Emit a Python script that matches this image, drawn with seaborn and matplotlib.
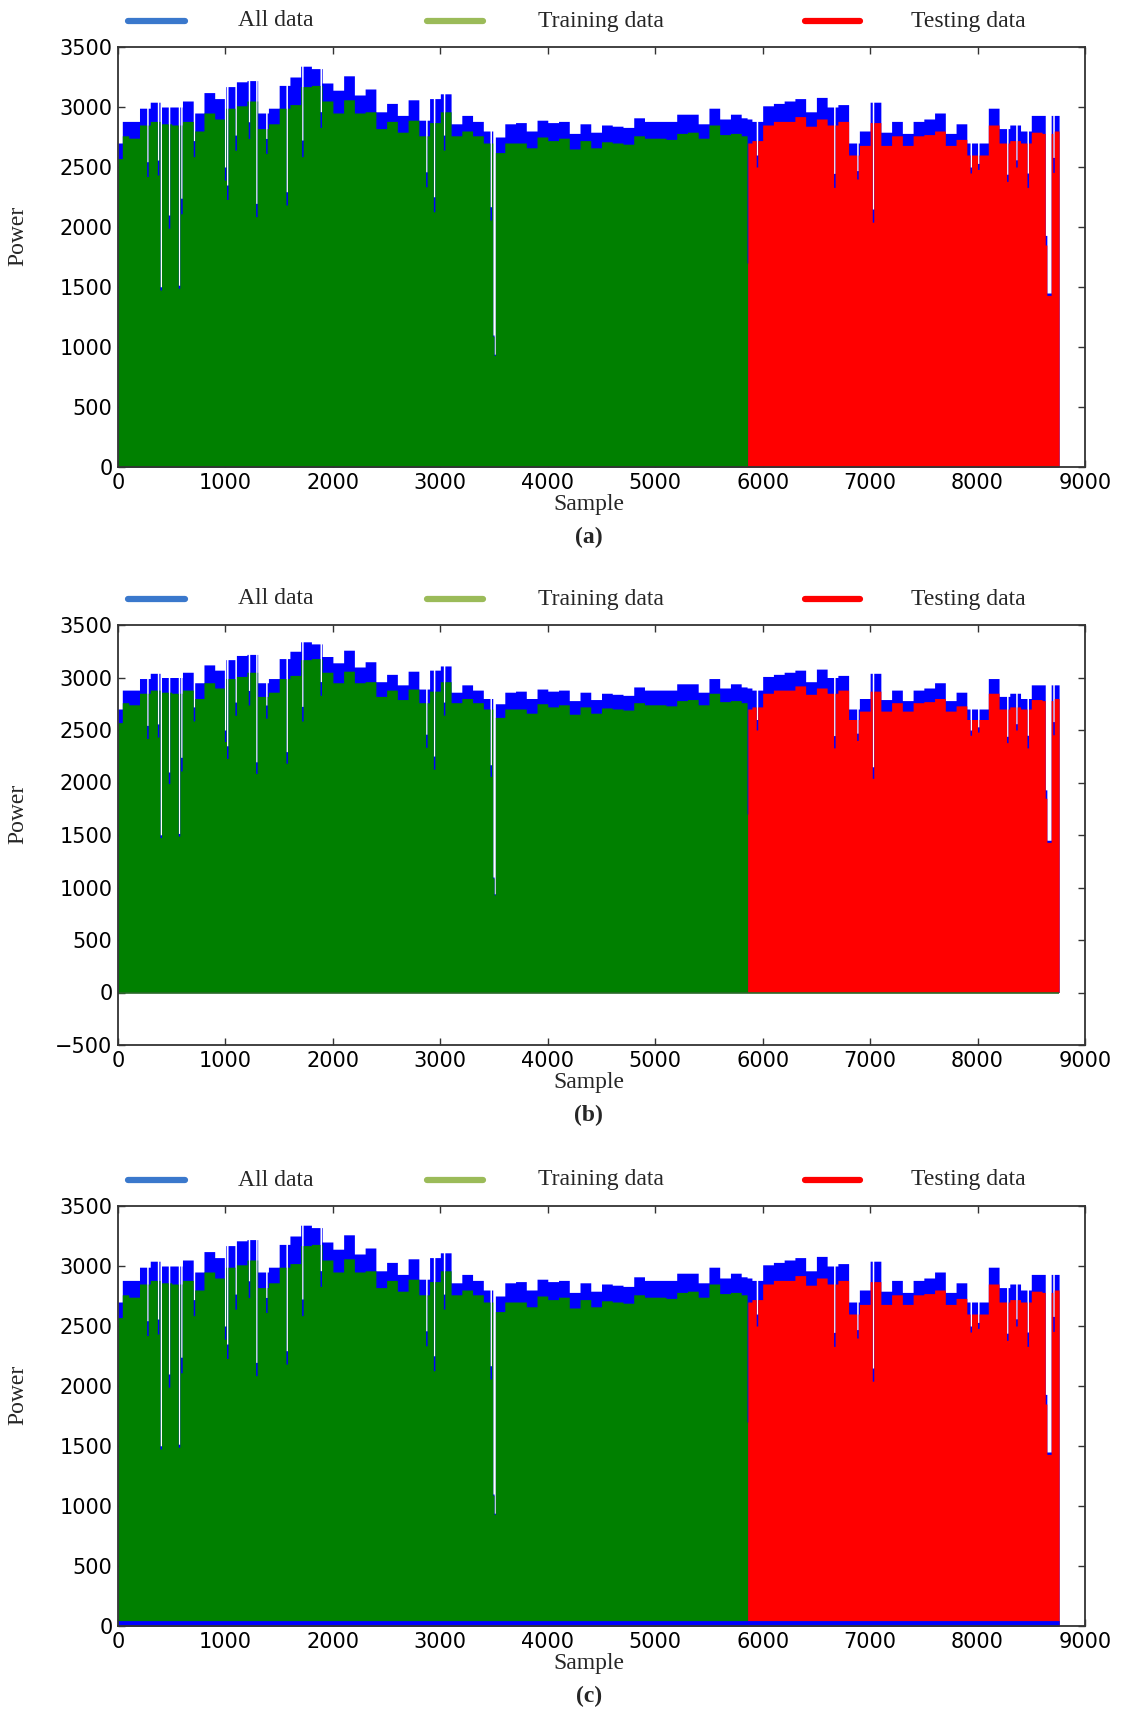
import numpy as np
import matplotlib
matplotlib.use('Agg')
import matplotlib.pyplot as plt
import seaborn as sns
from matplotlib.lines import Line2D

# step levels (value holds from this sample to the next one)
sample_start = [0, 40, 100, 200, 300, 400, 500, 600, 700, 800, 900,
                1000, 1100, 1200, 1300, 1400, 1500, 1600, 1700, 1800, 1900,
                2000, 2100, 2200, 2300, 2400, 2500, 2600, 2700, 2800, 2900,
                3000, 3100, 3200, 3300, 3400, 3500, 3600, 3700, 3800, 3900,
                4000, 4100, 4200, 4300, 4400, 4500, 4600, 4700, 4800, 4900,
                5000, 5100, 5200, 5300, 5400, 5500, 5600, 5700, 5800, 5860,
                5900, 6000, 6100, 6200, 6300, 6400, 6500, 6600, 6700, 6800,
                6900, 7000, 7100, 7200, 7300, 7400, 7500, 7600, 7700, 7800,
                7900, 8000, 8100, 8200, 8300, 8400, 8500, 8600, 8700]
all_power = [2700, 2880, 2880, 2990, 3040, 3000, 3000, 3050, 2950, 3120, 3070,
             3170, 3210, 3220, 2950, 2990, 3180, 3250, 3340, 3320, 3200,
             3140, 3260, 3100, 3150, 2960, 3030, 2930, 3060, 2890, 3070,
             3110, 2860, 2930, 2880, 2800, 2750, 2860, 2870, 2800, 2890,
             2870, 2880, 2780, 2860, 2790, 2850, 2840, 2830, 2910, 2880,
             2880, 2880, 2940, 2940, 2860, 2990, 2900, 2940, 2910, 2900,
             2880, 3010, 3030, 3050, 3070, 2960, 3080, 3000, 3020, 2700,
             2800, 3040, 2790, 2880, 2780, 2880, 2900, 2950, 2780, 2860,
             2700, 2700, 2990, 2820, 2850, 2800, 2930, 2930, 2930]
fit_power = [2570, 2760, 2740, 2850, 2880, 2860, 2850, 2880, 2800, 2950, 2900,
             2990, 3010, 3050, 2820, 2860, 2990, 3020, 3170, 3180, 3050,
             2950, 3060, 2950, 2960, 2820, 2880, 2790, 2890, 2760, 2870,
             2960, 2760, 2800, 2760, 2700, 2620, 2700, 2700, 2660, 2750,
             2720, 2740, 2650, 2720, 2660, 2710, 2700, 2690, 2760, 2740,
             2740, 2730, 2780, 2790, 2740, 2850, 2770, 2780, 2760, 2700,
             2720, 2850, 2880, 2880, 2920, 2840, 2900, 2850, 2880, 2600,
             2680, 2870, 2680, 2760, 2680, 2760, 2770, 2800, 2680, 2730,
             2600, 2600, 2850, 2700, 2720, 2700, 2790, 2780, 2800]

# short drops in the series
dip_start = [267, 366, 391, 468, 561, 583, 700, 990, 1010, 1088,
             1212, 1281, 1374, 1563, 1709, 1880, 2863, 2935, 3028, 3462,
             3488, 3500, 5855, 5940, 6660, 6875, 7020, 7930, 8000, 8270,
             8355, 8460, 8630, 8645, 8700]
dip_end = [281, 380, 405, 482, 575, 597, 714, 1004, 1024, 1102,
           1226, 1295, 1388, 1577, 1723, 1894, 2877, 2949, 3042, 3476,
           3500, 3512, 5862, 5954, 6674, 6889, 7034, 7944, 8014, 8284,
           8369, 8474, 8645, 8685, 8714]
dip_all = [2544, 2558, 1502, 2100, 1515, 2240, 2720, 2500, 2350, 2766,
           2877, 2197, 2738, 2294, 2725, 2961, 2460, 2252, 2766, 2169,
           1100, 940, 2900, 2600, 2447, 2470, 2150, 2500, 2530, 2440,
           2560, 2450, 1930, 1450, 2580]
dip_fit = [2420, 2433, 1475, 1990, 1490, 2110, 2586, 2390, 2230, 2640,
           2738, 2086, 2613, 2183, 2586, 2830, 2335, 2127, 2641, 2058,
           1090, 930, 1700, 2500, 2330, 2400, 2040, 2450, 2480, 2380,
           2500, 2330, 1850, 1430, 2455]

N_SAMPLES = 8760
SPLIT = 5860
panel_tags = ['(a)', '(b)', '(c)']
panel_ymin = [0, -500, 0]
legend_labels = ['All data', 'Training data', 'Testing data']
legend_colors = ['#3a78cc', '#9bbb59', '#ff0000']

idx = np.arange(N_SAMPLES + 1)
pos = np.searchsorted(sample_start, idx, side='right') - 1
all_series = np.asarray(all_power, float)[pos]
fit_series = np.asarray(fit_power, float)[pos]
for s, e, a, f in zip(dip_start, dip_end, dip_all, dip_fit):
    all_series[s:e] = a
    fit_series[s:e] = f
all_series[-1] = np.nan
fit_series[-1] = np.nan

sns.set_theme(style='ticks')
plt.rcParams['font.family'] = ['DejaVu Sans']
SERIF = 'Liberation Serif'

W, H = 1122, 1711
fig = plt.figure(figsize=(W / 100, H / 100), dpi=100)

ax_px = [(47, 467), (625, 1045), (1206, 1626)]
left, right = 118, 1085

for k, (top, bottom) in enumerate(ax_px):
    ax = fig.add_axes([left / W, 1 - bottom / H, (right - left) / W, (bottom - top) / H])
    ax.set_facecolor('white')
    ax.fill_between(idx, 0, all_series, step='post', color='#0000ff', lw=0)
    tr = idx <= SPLIT
    ax.fill_between(idx[tr], 0, fit_series[tr], step='post', color='#008000', lw=0)
    te = idx >= SPLIT
    ax.fill_between(idx[te], 0, fit_series[te], step='post', color='#ff0000', lw=0)
    if k == 1:
        ax.hlines(0, 0, N_SAMPLES, color='#2a6a2a', lw=1.2)
    if k == 2:
        ax.fill_between(idx, 0, 45, color='#0000ff', lw=0)

    ax.set_xlim(0, 9000)
    ax.set_ylim(panel_ymin[k], 3500)
    ax.set_xticks(np.arange(0, 9001, 1000))
    ax.set_yticks(np.arange(panel_ymin[k], 3501, 500))
    ax.yaxis.set_major_formatter(matplotlib.ticker.FuncFormatter(
        lambda v, p: f'{int(v)}'.replace('-', '\u2212')))
    ax.tick_params(direction='in', top=True, right=True, length=5, width=1,
                   labelsize=15, pad=4, colors='#333333', labelcolor='black')
    for sp in ax.spines.values():
        sp.set_color('#333333')
        sp.set_linewidth(1.3)

    ax.set_xlabel('Sample', family=SERIF, fontsize=17)
    ax.xaxis.set_label_coords(0.487, -27 / 420)
    ax.set_ylabel('Power', family=SERIF, fontsize=17)
    ax.yaxis.set_label_coords(-90 / 967, 0.55)
    ax.text(0.487, -70 / 420, panel_tags[k], transform=ax.transAxes,
            ha='center', va='center', family=SERIF, fontsize=17, fontweight='bold')

    # legend row above the axes
    ly = 1 + 26 / 420
    handle_x = [(128, 185), (427, 483), (805, 860)]
    text_x = [238, 538, 911]
    for (x0, x1), tx, lab, col in zip(handle_x, text_x, legend_labels, legend_colors):
        ax.add_line(Line2D([(x0 - left) / 967, (x1 - left) / 967], [ly, ly],
                           transform=ax.transAxes, color=col, lw=4.5,
                           solid_capstyle='round', clip_on=False))
        ax.text((tx - left) / 967, ly, lab, transform=ax.transAxes, ha='left',
                va='center', family=SERIF, fontsize=17)

fig.savefig('out.png', dpi=100)
